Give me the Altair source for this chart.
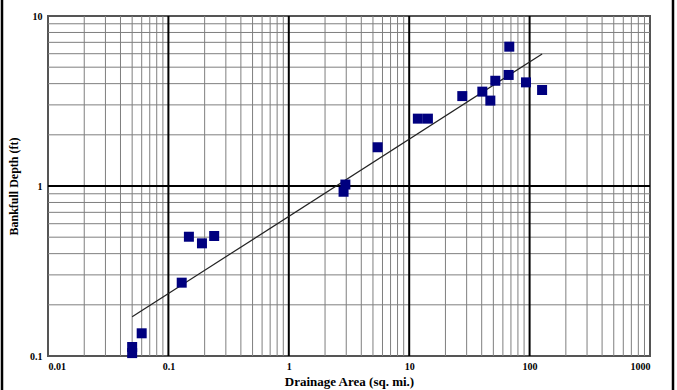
import altair as alt
import pandas as pd

# Drainage area (sq. mi.) and bankfull depth (ft) for each surveyed reach
area = [0.05, 0.05, 0.06, 0.129, 0.148, 0.19, 0.24, 2.85, 2.95, 5.47,
        11.8, 14.3, 27.6, 40.5, 47.2, 51.9, 67.0, 67.8, 93.3, 127.0]
depth = [0.104, 0.113, 0.136, 0.27, 0.503, 0.46, 0.508, 0.925, 1.02, 1.69,
         2.49, 2.49, 3.38, 3.59, 3.18, 4.16, 4.5, 6.6, 4.07, 3.67]

# Power-law fit drawn between its end points
fit_area = [0.05, 127.0]
fit_depth = [0.17, 5.98]

# Log grid positions
x_major = [0.1, 1, 10, 100]
y_major = [1]
x_minor = [m * d for d in [0.01, 0.1, 1, 10, 100] for m in range(2, 10)]
y_minor = [m * d for d in [0.1, 1] for m in range(2, 10)]
x_ticks = [0.01, 0.1, 1, 10, 100, 1000]
y_ticks = [0.1, 1, 10]

FONT = "Liberation Serif"
W, H = 602, 340

xs = alt.Scale(type="log", domain=[0.01, 1000], nice=False)
ys = alt.Scale(type="log", domain=[0.1, 10], nice=False)

x_axis = alt.Axis(values=x_ticks, format="~g", grid=False, ticks=False, domain=False,
                  labelFont=FONT, labelFontWeight="bold", labelFontSize=10, labelColor="#000",
                  labelPadding=5, title="Drainage Area (sq. mi.)", titleFont=FONT,
                  titleFontWeight="bold", titleFontSize=13, titleColor="#000", titlePadding=4)
y_axis = alt.Axis(values=y_ticks, format="~g", grid=False, ticks=False, domain=False,
                  labelFont=FONT, labelFontWeight="bold", labelFontSize=10, labelColor="#000",
                  labelPadding=6, title="Bankfull Depth (ft)", titleFont=FONT,
                  titleFontWeight="bold", titleFontSize=12, titleColor="#000", titlePadding=9)

minor_x = alt.Chart(pd.DataFrame({"v": x_minor})).mark_rule(color="#7f7f7f", strokeWidth=1).encode(
    x=alt.X("v:Q", scale=xs, axis=x_axis))
minor_y = alt.Chart(pd.DataFrame({"v": y_minor})).mark_rule(color="#7f7f7f", strokeWidth=1).encode(
    y=alt.Y("v:Q", scale=ys, axis=y_axis))
major_x = alt.Chart(pd.DataFrame({"v": x_major})).mark_rule(color="#000", strokeWidth=2).encode(
    x=alt.X("v:Q", scale=xs))
major_y = alt.Chart(pd.DataFrame({"v": y_major})).mark_rule(color="#000", strokeWidth=2).encode(
    y=alt.Y("v:Q", scale=ys))

fit = alt.Chart(pd.DataFrame({"a": fit_area, "d": fit_depth})).mark_line(
    color="#222", strokeWidth=1.2).encode(
    x=alt.X("a:Q", scale=xs), y=alt.Y("d:Q", scale=ys))

pts = alt.Chart(pd.DataFrame({"a": area, "d": depth})).mark_point(
    shape="square", filled=True, size=100, color="#00007f", opacity=1).encode(
    x=alt.X("a:Q", scale=xs), y=alt.Y("d:Q", scale=ys))

# Outer frame around the figure
frame_l = alt.Chart().mark_rule(color="#000", strokeWidth=2.5).encode(
    x=alt.value(-46), y=alt.value(-16), y2=alt.value(374))
frame_r = alt.Chart().mark_rule(color="#000", strokeWidth=2.5).encode(
    x=alt.value(625), y=alt.value(-16), y2=alt.value(374))

chart = alt.layer(minor_x, minor_y, major_x, major_y, fit, pts, frame_l, frame_r).properties(
    width=W, height=H,
    autosize=alt.AutoSizeParams(type="none"),
    padding={"left": 48, "top": 16, "right": 27, "bottom": 34},
    background="white",
).configure_view(stroke="#555", strokeWidth=2)

chart.save("out.html", embed_options={"renderer": "svg", "actions": False})
